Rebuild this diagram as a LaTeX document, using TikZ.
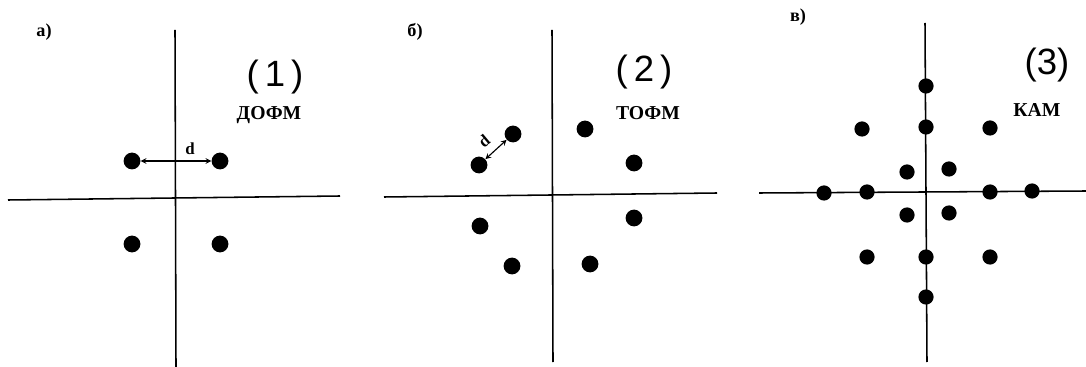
\documentclass[tikz,border=0pt]{standalone}
\usepackage{fontspec}
\setmainfont{Liberation Serif}
\newfontfamily\handfont{Liberation Sans}
\usepackage{tikz}
\usetikzlibrary{arrows,positioning}

\begin{document}
\begin{tikzpicture}[
    x=0.025cm, y=-0.025cm,
    axis/.style={line width=1.1pt},
    pt/.style={circle, fill=black, inner sep=0pt, minimum size=0.42cm},
    qpt/.style={pt, minimum size=0.38cm},
    arrow/.style={<->, >=stealth, line width=0.8pt},
    tag/.style={font=\bfseries\fontsize{13}{15}\selectfont},
    dlabel/.style={font=\bfseries\fontsize{12}{14}\selectfont},
    modname/.style={font=\bfseries\fontsize{14}{16}\selectfont},
    num/.style={font=\handfont\fontsize{26}{30}\selectfont}
]
\useasboundingbox (0,0) rectangle (1086,367);

% Panel a
\draw[axis] (175,30) -- (176,367);
\draw[axis] (8,200) -- (340,196);
\node[pt] (a1) at (132,161) {};
\node[pt] (a2) at (220,161) {};
\node[pt] (a3) at (132,244) {};
\node[pt] (a4) at (220,244) {};
\draw[arrow] (a1) -- (a2);
\node[tag] (la) at (44,32) {а)};
\node[num] (n1) at (275,77) {(\,1\,)};
\node[modname] (m1) at (269,115) {ДОФМ};
\node[dlabel] (d1) at (190,149) {d};

% Panel b
\draw[axis] (552,30) -- (553,362);
\draw[axis] (384,197) -- (717,193);
\node[pt] (b1) at (513,134) {};
\node[pt] (b2) at (479,165) {};
\node[pt] (b3) at (585,129) {};
\node[pt] (b4) at (634,163) {};
\node[pt] (b5) at (634,218) {};
\node[pt] (b6) at (480,226) {};
\node[pt] (b7) at (512,266) {};
\node[pt] (b8) at (590,264) {};
\draw[arrow] (b2) -- (b1);
\node[tag] (lb) at (415,32) {б)};
\node[num] (n2) at (644,72) {(\,2\,)};
\node[modname] (m2) at (648,113) {ТОФМ};
\node[dlabel, rotate=40] (d2) at (484,141) {d};

% Panel c
\draw[axis] (925,23) -- (927,362);
\draw[axis] (759,193) -- (1086,191);
\node[qpt] (c1) at (926,86) {};
\node[qpt] (c2) at (862,129) {};
\node[qpt] (c3) at (926,127) {};
\node[qpt] (c4) at (990,128) {};
\node[qpt] (c5) at (907,172) {};
\node[qpt] (c6) at (949,169) {};
\node[qpt] (c7) at (824,193) {};
\node[qpt] (c8) at (867,192) {};
\node[qpt] (c9) at (990,192) {};
\node[qpt] (c10) at (1032,191) {};
\node[qpt] (c11) at (907,215) {};
\node[qpt] (c12) at (949,213) {};
\node[qpt] (c13) at (867,257) {};
\node[qpt] (c14) at (926,257) {};
\node[qpt] (c15) at (990,257) {};
\node[qpt] (c16) at (926,297) {};
\node[tag] (lc) at (798,17) {в)};
\node[num] (n3) at (1047,65) {(3)};
\node[modname] (m3) at (1037,110) {КАМ};

\end{tikzpicture}
\end{document}
